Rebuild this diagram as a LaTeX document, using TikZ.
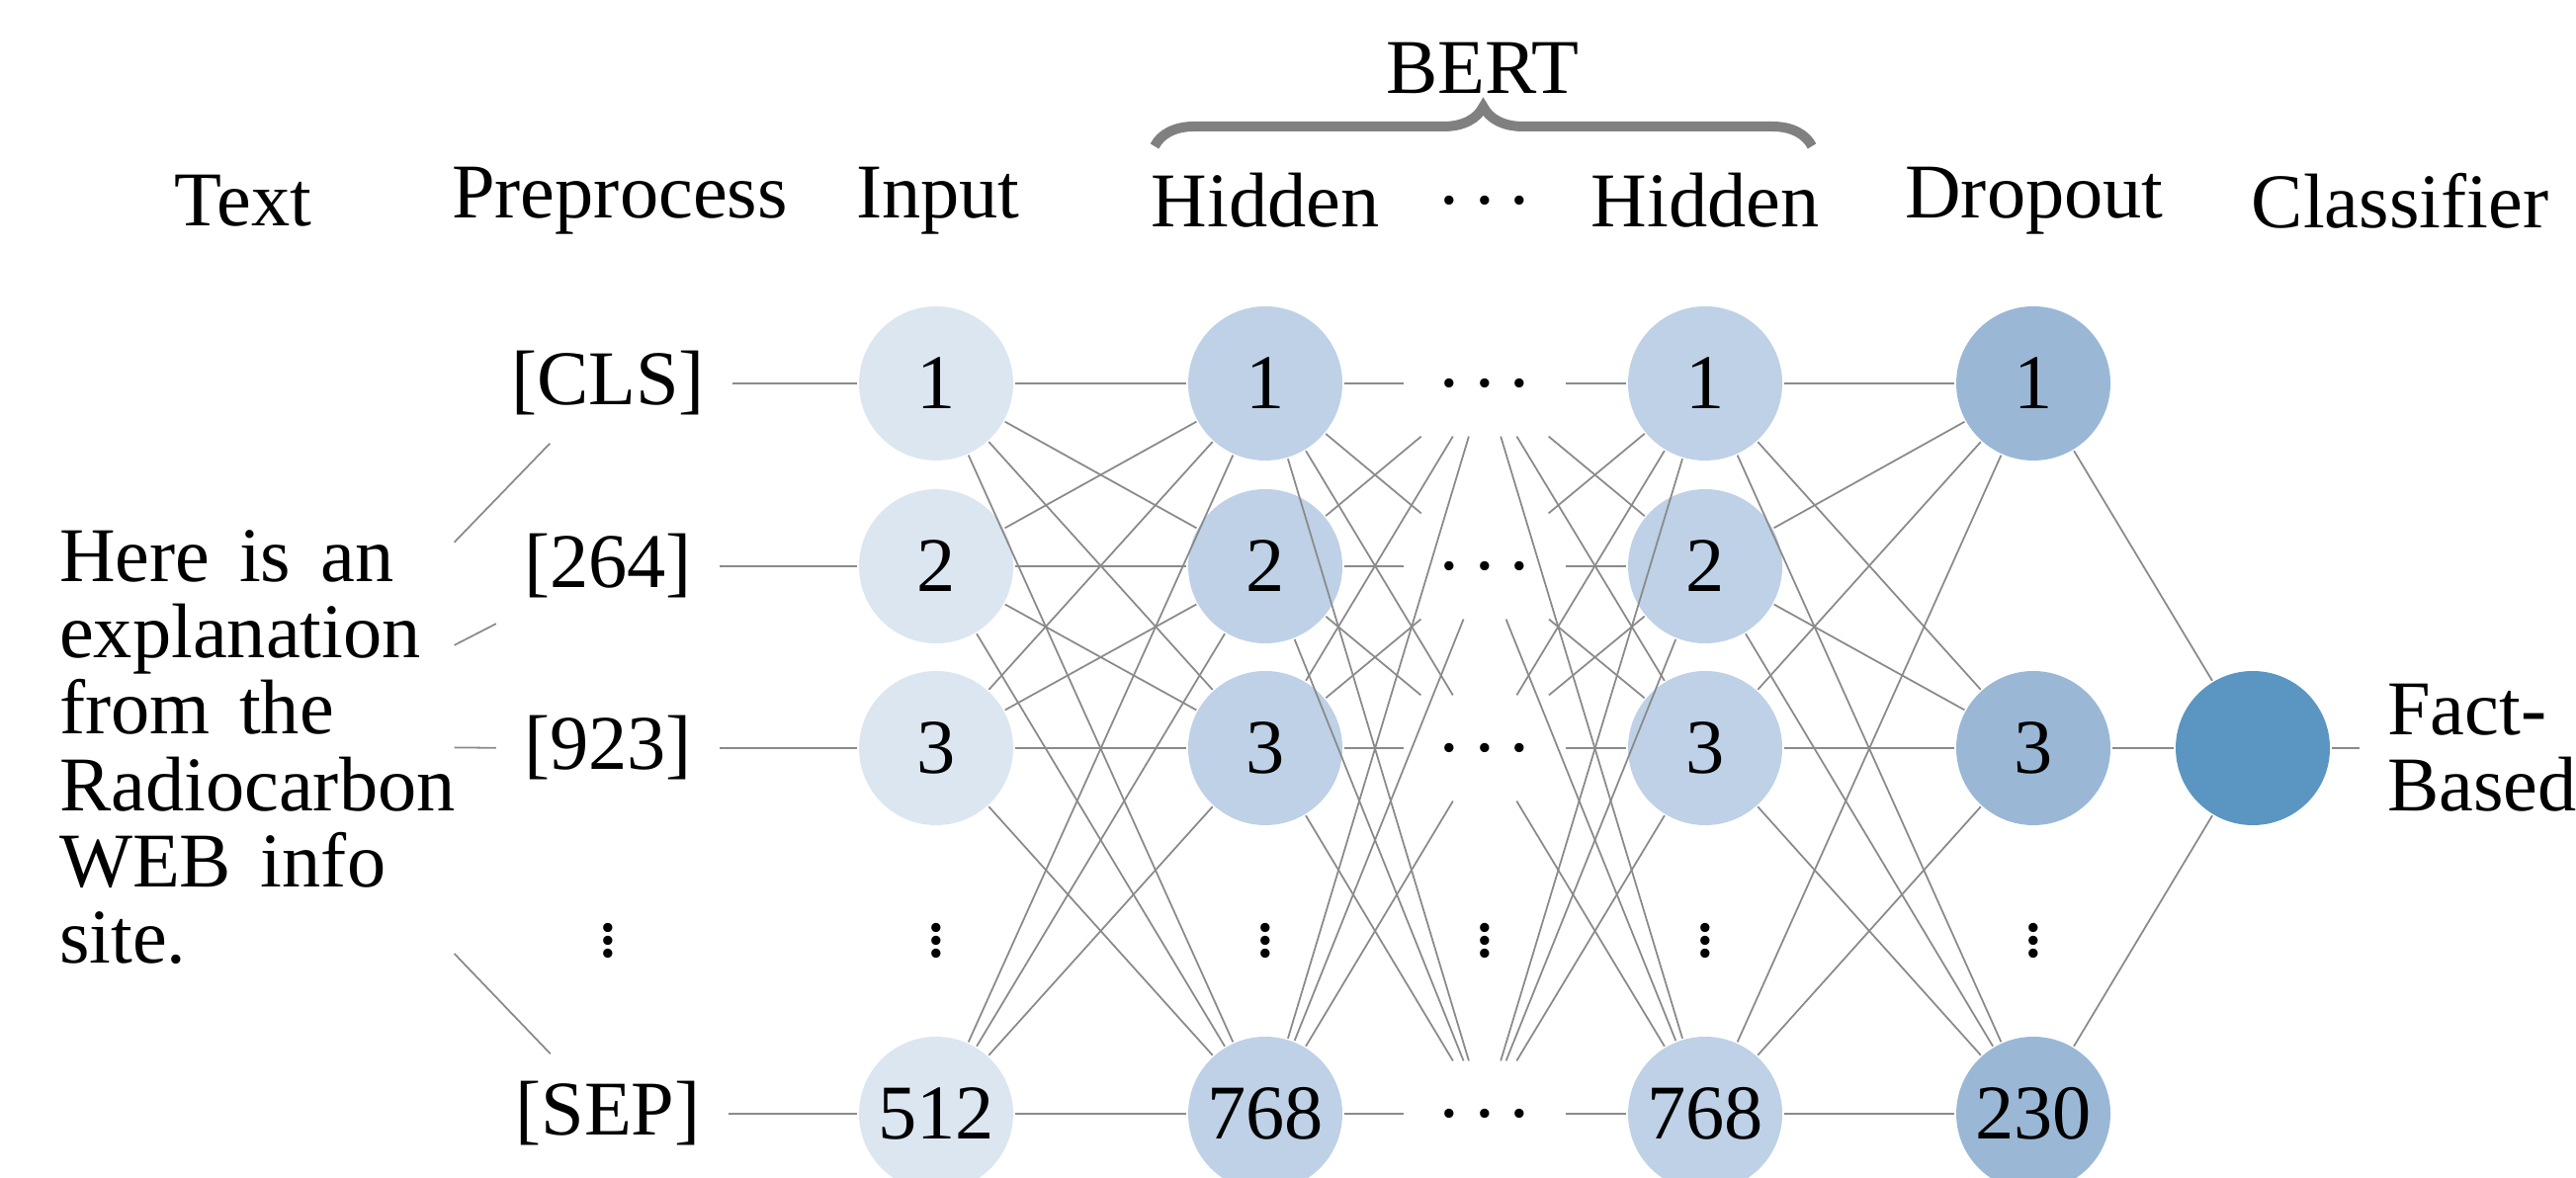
\documentclass[tikz,border=0pt]{standalone}
\usepackage{fontspec}
\setmainfont{Liberation Serif}
\usetikzlibrary{decorations.pathreplacing}
\definecolor{cin}{HTML}{DCE6F1}
\definecolor{chid}{HTML}{BED1E6}
\definecolor{cdrop}{HTML}{9AB8D6}
\definecolor{ccls}{HTML}{5A96C1}
\definecolor{linegray}{HTML}{8A8A8A}
\definecolor{bracegray}{HTML}{808080}
\newcommand\hdotsx{.\kern0.2em.\kern0.2em.}
\newcommand\vdotsx{\vbox{\baselineskip=1.625pt\lineskiplimit=-100pt\hbox{.}\hbox{.}\hbox{.}}}
\begin{document}
\begin{tikzpicture}[x=0.125pt,y=-0.125pt,
  every node/.style={font=\fontsize{9.8}{9.66}\selectfont},
  neuron/.style={circle, minimum size=19.5pt, inner sep=0pt},
  inl/.style={neuron, fill=cin},
  hidl/.style={neuron, fill=chid},
  dropl/.style={neuron, fill=cdrop},
  clsl/.style={neuron, fill=ccls},
  dotsbox/.style={inner sep=0pt, minimum width=20pt, minimum height=13pt},
  conn/.style={draw=linegray, line width=0.22pt},
  bracestyle/.style={draw=bracegray, line width=1.25pt, decorate, decoration={brace, amplitude=5pt}}
]
\useasboundingbox (0,0) rectangle (2606,1192);

% headers
\node (hText) at (246,203) {Text};
\node (hPre) at (627,203) {Preprocess};
\node (hIn) at (949,203) {Input};
\node (hHa) at (1280,203) {Hidden};
\node (hDots) at (1502,203) {\hdotsx};
\node (hHb) at (1725,203) {Hidden};
\node (hDrop) at (2058,203) {Dropout};
\node (hCls) at (2428,203) {Classifier};
\node (bert) at (1500,69) {BERT};
\coordinate (bl) at (1168,148);
\coordinate (br) at (1833,148);
\draw[bracestyle] (bl) -- (br);

% text block
\node[inner sep=0pt, text width=49.75pt, align=left] (txt) at (259,756)
  {\spaceskip=0.38em Here is an\\explanation\\from the\\Radiocarbon\\WEB info\\site.};

% tokens
\node (t1) at (615,388) {[CLS]};
\node (t2) at (615,573) {[264]};
\node (t3) at (615,757) {[923]};
\node (tv) at (615,952) {\vdotsx};
\node (t5) at (615,1127) {[SEP]};

% input
\node[inl] (i1) at (947,388) {1};
\node[inl] (i2) at (947,573) {2};
\node[inl] (i3) at (947,757) {3};
\node (iv) at (947,952) {\vdotsx};
\node[inl] (i5) at (947,1127) {512};

% hidden 1
\node[hidl] (h1) at (1280,388) {1};
\node[hidl] (h2) at (1280,573) {2};
\node[hidl] (h3) at (1280,757) {3};
\node (hv) at (1280,952) {\vdotsx};
\node[hidl] (h5) at (1280,1127) {768};

% dots column
\node[dotsbox] (d1) at (1502,388) {\hdotsx};
\node[dotsbox] (d2) at (1502,573) {\hdotsx};
\node[dotsbox] (d3) at (1502,757) {\hdotsx};
\node (dv) at (1502,952) {\vdotsx};
\node[dotsbox] (d5) at (1502,1127) {\hdotsx};

% hidden 2
\node[hidl] (g1) at (1725,388) {1};
\node[hidl] (g2) at (1725,573) {2};
\node[hidl] (g3) at (1725,757) {3};
\node (gv) at (1725,952) {\vdotsx};
\node[hidl] (g5) at (1725,1127) {768};

% dropout
\node[dropl] (p1) at (2057,388) {1};
\node[dropl] (p3) at (2057,757) {3};
\node (pv) at (2057,952) {\vdotsx};
\node[dropl] (p5) at (2057,1127) {230};

% classifier
\node[clsl] (c) at (2279,757) {};
\node[anchor=west, align=left] (lab) at (2387,757) {Fact-\\Based};

% connectors
\foreach \r in {1,2,3,5} {
  \draw[conn] (txt) -- (t\r);
  \draw[conn] (t\r) -- (i\r);
}
\foreach \a in {1,2,3,5} {
  \foreach \b in {1,2,3,5} {
    \draw[conn] (i\a) -- (h\b);
    \draw[conn] (h\a) -- (d\b);
    \draw[conn] (d\a) -- (g\b);
  }
  \foreach \b in {1,3,5} {
    \draw[conn] (g\a) -- (p\b);
  }
}
\foreach \b in {1,3,5} {
  \draw[conn] (p\b) -- (c);
}
\draw[conn] (c) -- (lab);
\end{tikzpicture}
\end{document}
